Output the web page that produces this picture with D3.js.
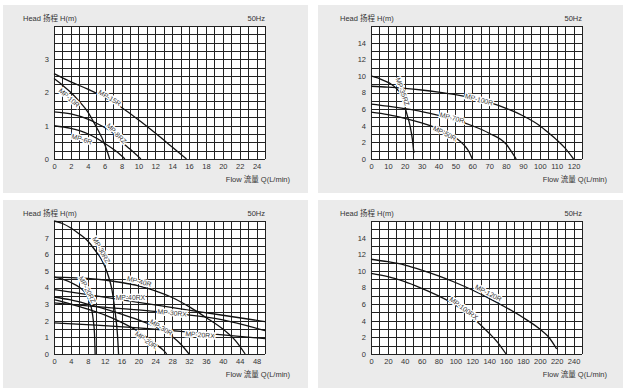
<!DOCTYPE html>
<meta charset="utf-8">
<style>
    body { margin: 0; background: #fff; }
    svg { display: block; font-family: Arial, "Liberation Sans", "Noto Sans CJK SC", sans-serif; }
    .panel-bg { fill: #ebebeb; }
    .plot-bg { fill: #fff; }
    .grid line { stroke: #222; stroke-width: 1; shape-rendering: crispEdges; }
    .curve { fill: none; stroke: #111; stroke-width: 1.3; }
    .axis text { fill: #333; font-size: 7.5px; }
    .title { fill: #333; font-size: 7.5px; }
    .lbl { fill: #333; font-size: 6.8px; stroke: #fff; stroke-width: 2.6; paint-order: stroke; }
</style>
<svg width="631" height="391"></svg>
<script src="https://d3js.org/d3.v7.min.js"></script>
<script>

    // ---- panel 1 (top left) ----
    var p1XTicks = [0, 2, 4, 6, 8, 10, 12, 14, 16, 18, 20, 22, 24];
    var p1YTicks = [0, 1, 2, 3];
    var mp15R = [[0, 2.57], [2, 2.32], [4, 2.1], [6, 1.85], [8, 1.55], [10, 1.18], [12, 0.78], [14, 0.36], [15.7, 0]];
    var mp10R = [[0, 2.42], [1, 2.22], [2, 2.0], [3, 1.73], [4, 1.42], [5, 0.97], [6, 0.45], [6.6, 0]];
    var mp8RZ = [[0, 1.42], [2, 1.36], [4, 1.2], [5, 1.08], [6, 0.95], [7, 0.78], [8, 0.52], [9, 0.3], [10.3, 0]];
    var mp6R = [[0, 1.0], [2, 0.92], [4, 0.76], [5, 0.63], [6, 0.47], [7, 0.3], [8, 0.1], [8.4, 0]];

    // ---- panel 2 (top right) ----
    var p2XTicks = [0, 10, 20, 30, 40, 50, 60, 70, 80, 90, 100, 110, 120];
    var p2YTicks = [0, 2, 4, 6, 8, 10, 12, 14];
    var mp35RZ = [[0, 10.0], [4, 9.75], [8, 9.4], [12, 9.0], [15, 8.5], [17, 8.0], [19, 7.1], [21, 5.6], [23, 4.1], [24.5, 2.4], [25.4, 0.7]];
    var mp100R = [[0, 8.75], [10, 8.65], [20, 8.5], [30, 8.3], [40, 8.05], [50, 7.75], [60, 7.35], [70, 6.8], [80, 6.1], [90, 5.2], [100, 4.0], [106, 3.0], [110, 2.3], [115, 1.3], [120, 0]];
    var mp70R = [[0, 6.6], [10, 6.35], [20, 6.05], [30, 5.7], [40, 5.25], [50, 4.7], [60, 4.0], [70, 3.1], [80, 1.8], [86, 0]];
    var mp50R = [[0, 5.65], [10, 5.35], [20, 4.9], [30, 4.35], [40, 3.65], [50, 2.6], [55, 1.7], [58, 0.9], [60, 0]];

    // ---- panel 3 (bottom left) ----
    var p3XTicks = [0, 4, 8, 12, 16, 20, 24, 28, 32, 36, 40, 44, 48];
    var p3YTicks = [0, 1, 2, 3, 4, 5, 6, 7];
    var mp30RZ = [[0, 8.0], [2, 7.85], [4, 7.58], [6, 7.22], [8, 6.8], [10, 6.15], [11, 5.8], [12, 5.3], [13, 4.6], [13.7, 3.9], [14.5, 2.5], [15, 1.3], [15.3, 0]];
    var mp20RZ = [[0, 4.62], [2, 4.5], [4, 4.3], [6, 4.02], [7, 3.8], [8, 3.42], [8.5, 3.08], [9, 2.6], [9.3, 2.05], [9.6, 1.2], [9.75, 0]];
    var mp40R = [[0, 4.62], [4, 4.6], [8, 4.55], [12, 4.45], [16, 4.3], [20, 4.1], [24, 3.8], [28, 3.4], [32, 2.85], [36, 2.2], [40, 1.5], [43, 0.8], [45.3, 0]];
    var mp40RX = [[0, 3.87], [10, 3.5], [20, 3.1], [30, 2.72], [40, 2.33], [50, 1.95]];
    var mp30R = [[0, 3.43], [4, 3.25], [8, 3.0], [12, 2.72], [16, 2.4], [20, 2.05], [24, 1.65], [28, 1.05], [30, 0.6], [32, 0]];
    var mp30RX = [[0, 3.07], [10, 2.85], [20, 2.65], [30, 2.4], [40, 2.05], [50, 1.4]];
    var mp20R = [[0, 3.27], [4, 3.0], [8, 2.7], [12, 2.35], [16, 1.9], [20, 1.35], [22, 1.0], [24, 0.62], [26, 0.2], [26.7, 0]];
    var mp20RX = [[0, 1.87], [10, 1.74], [20, 1.57], [30, 1.36], [40, 1.15], [50, 0.92]];

    // ---- panel 4 (bottom right) ----
    var p4XTicks = [0, 20, 40, 60, 80, 100, 120, 140, 160, 180, 200, 220, 240];
    var p4YTicks = [0, 2, 4, 6, 8, 10, 12, 14];
    var mp120R = [[0, 11.4], [20, 11.1], [40, 10.7], [60, 10.1], [80, 9.4], [100, 8.6], [120, 7.7], [140, 6.7], [160, 5.6], [180, 4.4], [200, 3.0], [210, 2.1], [220, 0.6]];
    var mp100RX = [[0, 9.7], [20, 9.3], [40, 8.7], [60, 7.9], [80, 7.0], [100, 5.9], [120, 4.4], [140, 2.5], [150, 1.4], [160, 0]];

    // model labels: [name, data, label flow, label head, fixed angle or null]
    var p1Labels = [["MP-15R", mp15R, 6.6, 1.84, null], ["MP-10R", mp10R, 1.8, 1.84, null],
        ["MP-8RZ", mp8RZ, 7.4, 0.77, null], ["MP-6R", mp6R, 3.3, 0.6, null]];
    var p2Labels = [["MP-35RZ", mp35RZ, 18.7, 8.1, null], ["MP-100R", mp100R, 64, 7.15, null],
        ["MP-70R", mp70R, 48, 4.96, null], ["MP-50R", mp50R, 43.7, 3.1, null]];
    var p3Labels = [["MP-30RZ", mp30RZ, 11.2, 6.25, null], ["MP-40R", mp40R, 20.2, 4.37, null],
        ["MP-20RZ", mp20RZ, 7.9, 3.87, null], ["MP-40RX", mp40RX, 18.1, 3.42, 0],
        ["MP-30RX", mp30RX, 28, 2.47, null], ["MP-30R", mp30R, 25.4, 1.6, null],
        ["MP-20R", mp20R, 21.8, 0.84, null], ["MP-20RX", mp20RX, 34.6, 1.16, null]];
    var p4Labels = [["MP-120R", mp120R, 139, 7.34, null], ["MP-100RX", mp100RX, 110, 5.5, null]];

    var panels = [
        {bx: 3, by: 5, left: 54, top: 26, xMax: 25, xStep: 1, yMax: 4, yStep: 0.25,
            xTicks: p1XTicks, yTicks: p1YTicks, series: [mp15R, mp10R, mp8RZ, mp6R], labels: p1Labels},
        {bx: 318, by: 5, left: 371, top: 26, xMax: 125, xStep: 5, yMax: 16, yStep: 1,
            xTicks: p2XTicks, yTicks: p2YTicks, series: [mp35RZ, mp100R, mp70R, mp50R], labels: p2Labels},
        {bx: 3, by: 200, left: 54, top: 221, xMax: 50, xStep: 2, yMax: 8, yStep: 0.5,
            xTicks: p3XTicks, yTicks: p3YTicks, series: [mp30RZ, mp20RZ, mp40R, mp40RX, mp30R, mp30RX, mp20R, mp20RX], labels: p3Labels},
        {bx: 318, by: 200, left: 371, top: 221, xMax: 250, xStep: 10, yMax: 16, yStep: 1,
            xTicks: p4XTicks, yTicks: p4YTicks, series: [mp120R, mp100RX], labels: p4Labels}
    ];

    var svg = d3.select("svg"),
        pw = 211, ph = 133;

    function headAt(data, q) {
        for (var i = 1; i < data.length; i++) {
            if (q <= data[i][0]) {
                var a = data[i - 1], b = data[i];
                return a[1] + (b[1] - a[1]) * (q - a[0]) / (b[0] - a[0]);
            }
        }
        return data[data.length - 1][1];
    }

    panels.forEach(function (p) {
        svg.append("rect").attr("class", "panel-bg")
            .attr("x", p.bx).attr("y", p.by).attr("width", 305).attr("height", 188);

        var g = svg.append("g").attr("transform", "translate(" + p.left + "," + p.top + ")");

        var x = d3.scaleLinear().domain([0, p.xMax]).range([0, pw]);
        var y = d3.scaleLinear().domain([0, p.yMax]).range([ph, 0]);

        g.append("rect").attr("class", "plot-bg").attr("width", pw).attr("height", ph);

        var grid = g.append("g").attr("class", "grid");
        grid.selectAll(".v").data(d3.range(0, p.xMax + p.xStep / 2, p.xStep))
            .enter().append("line")
            .attr("x1", function (d) { return Math.round(x(d)) + 0.5; })
            .attr("x2", function (d) { return Math.round(x(d)) + 0.5; })
            .attr("y1", 0).attr("y2", ph);
        grid.selectAll(".h").data(d3.range(0, p.yMax + p.yStep / 2, p.yStep))
            .enter().append("line")
            .attr("y1", function (d) { return Math.round(y(d)) + 0.5; })
            .attr("y2", function (d) { return Math.round(y(d)) + 0.5; })
            .attr("x1", 0).attr("x2", pw);

        var line = d3.line()
            .x(function (d) { return x(d[0]); })
            .y(function (d) { return y(d[1]); })
            .curve(d3.curveMonotoneX);

        g.selectAll(".curve").data(p.series)
            .enter().append("path")
            .attr("class", "curve")
            .attr("d", line);

        g.selectAll(".lbl").data(p.labels)
            .enter().append("text")
            .attr("class", "lbl")
            .attr("text-anchor", "middle")
            .attr("dy", "0.35em")
            .attr("transform", function (d) {
                var ang = d[4];
                if (ang === null) {
                    var dq = p.xMax / 100;
                    var dx = x(d[2] + dq) - x(d[2] - dq);
                    var dy = y(headAt(d[1], d[2] + dq)) - y(headAt(d[1], d[2] - dq));
                    ang = Math.atan2(dy, dx) * 180 / Math.PI;
                }
                return "translate(" + x(d[2]) + "," + y(d[3]) + ") rotate(" + ang + ")";
            })
            .text(function (d) { return d[0]; });

        var xAxis = g.append("g").attr("class", "axis")
            .attr("transform", "translate(0," + ph + ")")
            .call(d3.axisBottom(x).tickValues(p.xTicks).tickFormat(d3.format("d")).tickSize(0).tickPadding(5));
        xAxis.select(".domain").remove();

        var yAxis = g.append("g").attr("class", "axis")
            .call(d3.axisLeft(y).tickValues(p.yTicks).tickFormat(d3.format("d")).tickSize(0).tickPadding(5));
        yAxis.select(".domain").remove();

        g.append("text").attr("class", "title")
            .attr("x", -31).attr("y", -5)
            .text("Head 扬程 H(m)");
        g.append("text").attr("class", "title")
            .attr("x", pw).attr("y", -5)
            .attr("text-anchor", "end")
            .text("50Hz");
        g.append("text").attr("class", "title")
            .attr("x", pw + 25).attr("y", ph + 23)
            .attr("text-anchor", "end")
            .text("Flow 流量 Q(L/min)");
    });

</script>
